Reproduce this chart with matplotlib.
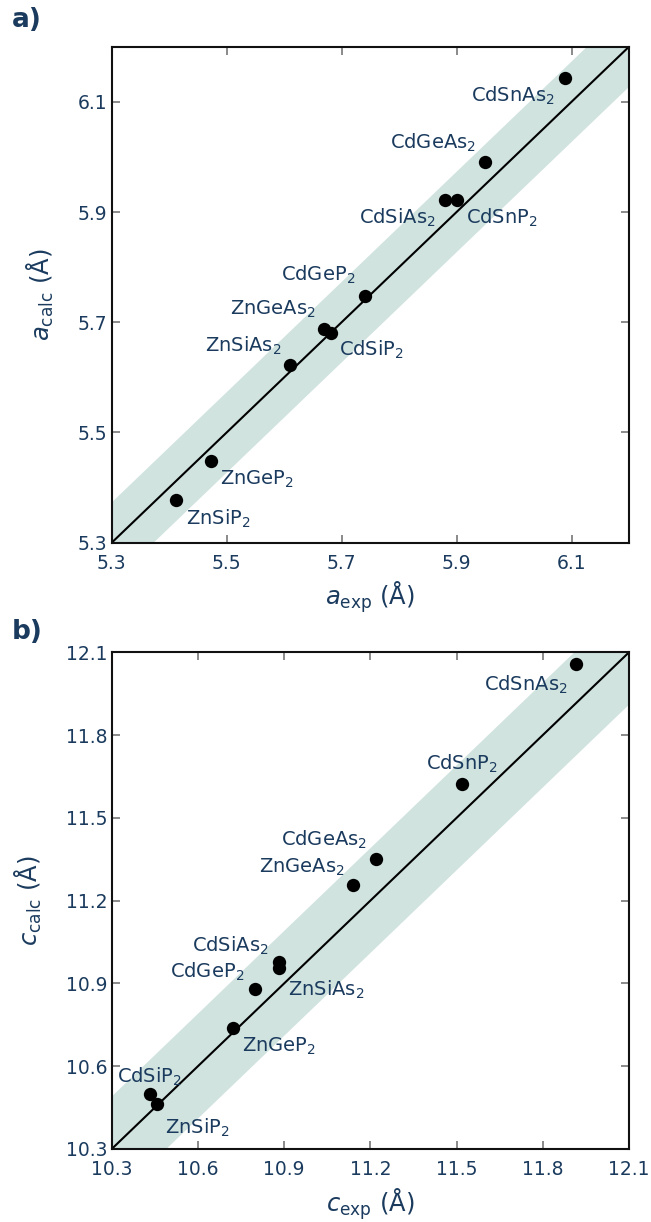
import numpy as np
import matplotlib
matplotlib.use("Agg")
import matplotlib.pyplot as plt

plt.rcParams['font.family'] = ['DejaVu Sans']
plt.rcParams['mathtext.fontset'] = 'dejavusans'

# ---------------- data ----------------
compounds_a = ["ZnSiP2", "ZnGeP2", "ZnSiAs2", "ZnGeAs2", "CdSiP2",
               "CdGeP2", "CdSiAs2", "CdSnP2", "CdGeAs2", "CdSnAs2"]
a_exp = [5.412, 5.472, 5.611, 5.670, 5.681, 5.740, 5.880, 5.900, 5.949, 6.089]
a_calc = [5.377, 5.449, 5.622, 5.688, 5.681, 5.748, 5.922, 5.922, 5.990, 6.144]

compounds_c = ["ZnSiP2", "CdSiP2", "ZnGeP2", "CdGeP2", "ZnSiAs2",
               "CdSiAs2", "ZnGeAs2", "CdGeAs2", "CdSnP2", "CdSnAs2"]
c_exp = [10.456, 10.433, 10.723, 10.800, 10.882, 10.882, 11.141, 11.220, 11.519, 11.917]
c_calc = [10.463, 10.499, 10.738, 10.879, 10.957, 10.978, 11.256, 11.350, 11.622, 12.056]

a_ticks = [5.3, 5.5, 5.7, 5.9, 6.1]
c_ticks = [10.3, 10.6, 10.9, 11.2, 11.5, 11.8, 12.1]
a_lim = (5.3, 6.2)
c_lim = (10.3, 12.1)
a_band = 0.073
c_band = 0.19

# label offsets in pixels (dx right, dy down)
a_offsets = {"CdSnAs2": (-52, 18), "CdGeAs2": (-52, -20), "CdSiAs2": (-48, 18),
             "CdSnP2": (45, 18), "CdGeP2": (-46, -21), "ZnGeAs2": (-51, -20),
             "ZnSiAs2": (-47, -19), "CdSiP2": (41, 17), "ZnGeP2": (46, 19),
             "ZnSiP2": (42, 19)}
c_offsets = {"CdSnAs2": (-51, 20), "CdSnP2": (0, -20), "CdGeAs2": (-52, -19),
             "ZnGeAs2": (-52, -18), "CdSiAs2": (-49, -16), "CdGeP2": (-48, -17),
             "ZnSiAs2": (47, 22), "ZnGeP2": (46, 18), "CdSiP2": (0, -17),
             "ZnSiP2": (41, 24)}

NAVY = '#1b3b5e'
BAND = '#d0e3df'

def fmt(name):
    return name[:-1] + "$_{" + name[-1] + "}$"

W, H = 651, 1222
fig = plt.figure(figsize=(W / 100, H / 100), dpi=100)
ax1 = fig.add_axes([111.7 / W, (H - 542.7) / H, 517.3 / W, 496 / H])
ax2 = fig.add_axes([111.7 / W, (H - 1149) / H, 517.3 / W, 496.7 / H])

def draw(ax, xs, ys, names, offsets, lim, ticks, band, sym):
    t = np.array([lim[0] - 1, lim[1] + 1])
    ax.fill_between(t, t - band, t + band, color=BAND, lw=0, zorder=1)
    ax.plot(t, t, color='black', lw=1.5, zorder=2)
    ax.scatter(xs, ys, s=92, color='black', zorder=3, linewidths=0)
    for n, x, y in zip(names, xs, ys):
        dx, dy = offsets[n]
        ax.annotate(fmt(n), (x, y), xytext=(dx * 0.72, -dy * 0.72),
                    textcoords='offset points', ha='center', va='center',
                    fontsize=14, color=NAVY, zorder=4)
    ax.set_xlim(lim)
    ax.set_ylim(lim)
    ax.set_xticks(ticks)
    ax.set_yticks(ticks)
    ax.set_xticklabels([f"{v:.1f}" for v in ticks])
    ax.set_yticklabels([f"{v:.1f}" for v in ticks])
    ax.tick_params(direction='in', length=6, width=1.2, color='#777777',
                   top=True, right=True, labelsize=13.5, labelcolor=NAVY)
    ax.tick_params(axis='x', pad=8)
    ax.tick_params(axis='y', pad=3)
    for sp in ax.spines.values():
        sp.set_linewidth(1.5)
        sp.set_color('#111111')
    ax.set_xlabel(r"$%s_{\mathrm{exp}}$ (Å)" % sym, fontsize=17.5, color=NAVY, labelpad=5)
    ax.set_ylabel(r"$%s_{\mathrm{calc}}$ (Å)" % sym, fontsize=17.5, color=NAVY, labelpad=16)

draw(ax1, a_exp, a_calc, compounds_a, a_offsets, a_lim, a_ticks, a_band, 'a')
draw(ax2, c_exp, c_calc, compounds_c, c_offsets, c_lim, c_ticks, c_band, 'c')

fig.text(12 / W, 1 - 20 / H, "a)", fontsize=19, fontweight='bold', color=NAVY,
         ha='left', va='center')
fig.text(12 / W, 1 - 632 / H, "b)", fontsize=19, fontweight='bold', color=NAVY,
         ha='left', va='center')

fig.savefig("out.png", dpi=100)
